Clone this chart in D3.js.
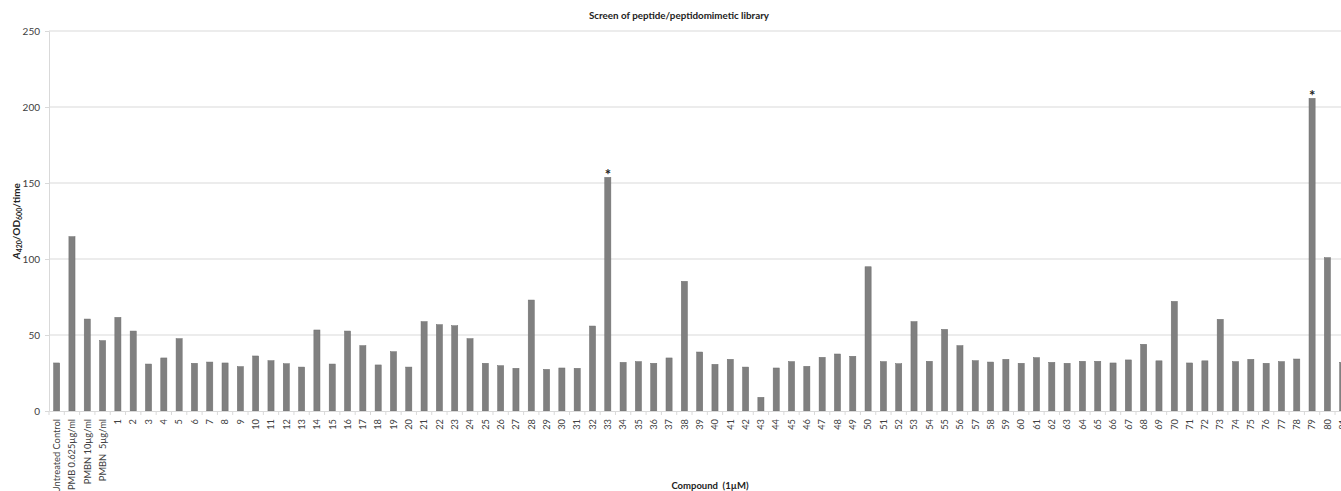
<!DOCTYPE html>
<html>
<head>
<meta charset="utf-8">
<script src="https://cdn.jsdelivr.net/npm/d3@7"></script>
<style>
  body { margin: 0; background: #fff; overflow: hidden; }
  text { font-family: Lato, "Open Sans", sans-serif; }
</style>
</head>
<body>
<script>
const categories = [
  "Untreated Control", "PMB 0.625µg/ml", "PMBN 10µg/ml", "PMBN  5µg/ml",
  "1", "2", "3", "4", "5", "6", "7", "8", "9", "10",
  "11", "12", "13", "14", "15", "16", "17", "18", "19", "20",
  "21", "22", "23", "24", "25", "26", "27", "28", "29", "30",
  "31", "32", "33", "34", "35", "36", "37", "38", "39", "40",
  "41", "42", "43", "44", "45", "46", "47", "48", "49", "50",
  "51", "52", "53", "54", "55", "56", "57", "58", "59", "60",
  "61", "62", "63", "64", "65", "66", "67", "68", "69", "70",
  "71", "72", "73", "74", "75", "76", "77", "78", "79", "80", "81"
];

const values = [
  31.6, 114.7, 60.5, 46.3,
  61.6, 52.6, 30.9, 34.9, 47.6, 31.4, 32.2, 31.6, 29.2, 36.2,
  33.1, 31.1, 28.9, 53.3, 30.9, 52.6, 43.0, 30.3, 39.0, 28.9,
  58.8, 56.8, 56.1, 47.6, 31.4, 29.8, 28.1, 73.0, 27.4, 28.3,
  28.1, 55.9, 153.7, 32.0, 32.5, 31.4, 34.9, 85.3, 38.8, 30.7,
  34.0, 28.9, 9.0, 28.3, 32.5, 29.4, 35.3, 37.5, 36.0, 94.9,
  32.5, 31.1, 58.8, 32.7, 53.7, 43.0, 33.1, 32.2, 34.0, 31.4,
  35.1, 32.0, 31.4, 32.7, 32.7, 31.6, 33.6, 43.9, 33.0, 72.1,
  31.6, 33.0, 60.3, 32.5, 34.0, 31.4, 32.5, 34.2, 205.7, 100.9, 32.0
];

const significant = ["33", "79"];
const yTicks = [0, 50, 100, 150, 200, 250];

const data = categories.map((c, i) => ({ name: c, value: values[i] }));

const width = 1341;
const height = 491;
const left = 49;
const step = 15.31;

const svg = d3.select("body").append("svg")
  .attr("width", width)
  .attr("height", height);

const x = d3.scaleBand()
  .domain(categories)
  .range([left, left + step * categories.length])
  .paddingInner(0.6)
  .paddingOuter(0.3);

const y = d3.scaleLinear()
  .domain([0, 250])
  .range([411, 31]);

// gridlines
svg.append("g")
  .selectAll("line")
  .data(yTicks.slice(1))
  .join("line")
  .attr("x1", left)
  .attr("x2", width)
  .attr("y1", d => y(d))
  .attr("y2", d => y(d))
  .attr("stroke", "#d9d9d9")
  .attr("stroke-width", 1);

// y axis
const yAxis = d3.axisLeft(y).tickValues(yTicks).tickSize(4).tickPadding(5).tickSizeOuter(0);
const gy = svg.append("g")
  .attr("transform", `translate(${left},0)`)
  .call(yAxis);
gy.select(".domain").attr("stroke", "#d9d9d9");
gy.selectAll(".tick line").attr("stroke", "#d9d9d9");
gy.selectAll(".tick text")
  .attr("fill", "#404040")
  .style("font-size", "10px");

// bars
svg.append("g")
  .selectAll("rect")
  .data(data)
  .join("rect")
  .attr("x", d => x(d.name))
  .attr("y", d => y(d.value))
  .attr("width", x.bandwidth())
  .attr("height", d => y(0) - y(d.value))
  .attr("fill", "#808080")
  .attr("stroke", "#6e6e6e")
  .attr("stroke-width", 0.5);

// asterisks
svg.append("g")
  .selectAll("text")
  .data(data.filter(d => significant.includes(d.name)))
  .join("text")
  .attr("x", d => x(d.name) + x.bandwidth() / 2)
  .attr("y", d => y(d.value) + 3)
  .attr("text-anchor", "middle")
  .style("font-size", "15px")
  .style("font-weight", "bold")
  .attr("fill", "#222")
  .text("*");

// x axis
const xAxis = d3.axisBottom(x).tickSize(0).tickSizeOuter(0);
const gx = svg.append("g")
  .attr("transform", `translate(0,${y(0)})`)
  .call(xAxis);
gx.select(".domain").attr("stroke", "#d9d9d9");
gx.selectAll(".tick text")
  .attr("transform", "rotate(-90)")
  .attr("y", 0)
  .attr("x", -8)
  .attr("dy", "0.35em")
  .style("text-anchor", "end")
  .style("font-size", "9.3px")
  .style("white-space", "pre")
  .attr("fill", "#404040");

// boundary tick marks between categories
gx.append("g")
  .selectAll("line")
  .data(categories)
  .join("line")
  .attr("x1", d => x(d) + x.bandwidth() / 2 - x.step() / 2)
  .attr("x2", d => x(d) + x.bandwidth() / 2 - x.step() / 2)
  .attr("y1", 0)
  .attr("y2", 4)
  .attr("stroke", "#d9d9d9");

// title
svg.append("text")
  .attr("x", 679)
  .attr("y", 19)
  .attr("text-anchor", "middle")
  .style("font-size", "9.8px")
  .style("font-weight", "bold")
  .attr("fill", "#222")
  .text("Screen of peptide/peptidomimetic library");

// y label
const yl = svg.append("text")
  .attr("transform", "translate(20,221) rotate(-90)")
  .attr("text-anchor", "middle")
  .style("font-size", "10px")
  .style("font-weight", "bold")
  .attr("fill", "#222");
yl.append("tspan").style("font-style", "italic").text("A");
yl.append("tspan").attr("dy", 2).style("font-size", "7px").text("420");
yl.append("tspan").attr("dy", -2).text("/OD");
yl.append("tspan").attr("dy", 2).style("font-size", "7px").text("600");
yl.append("tspan").attr("dy", -2).text("/time");

// x label
svg.append("text")
  .attr("x", 710)
  .attr("y", 489)
  .attr("text-anchor", "middle")
  .style("font-size", "9.5px")
  .style("font-weight", "bold")
  .style("white-space", "pre")
  .attr("fill", "#222")
  .text("Compound  (1µM)");
</script>
</body>
</html>
